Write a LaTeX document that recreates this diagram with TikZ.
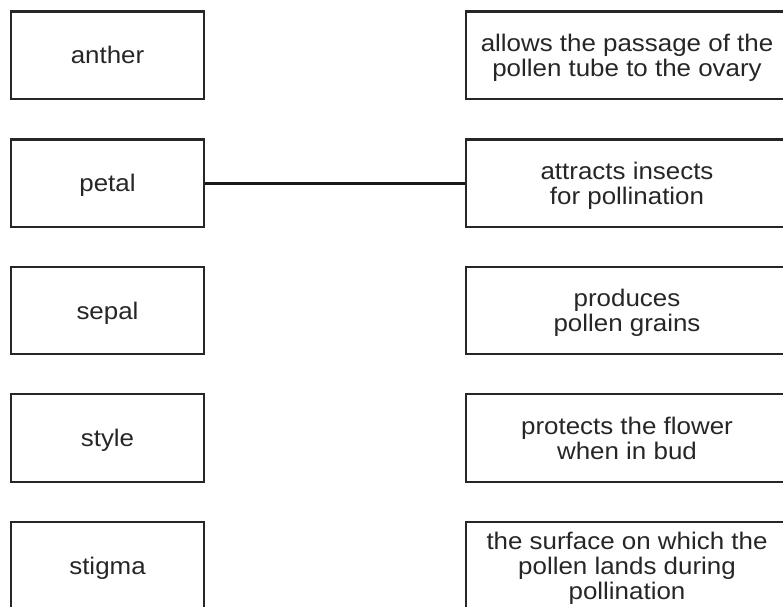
\documentclass[tikz,border=0pt]{standalone}
\usepackage{fontspec}
\setmainfont{Liberation Sans}[FakeStretch=1.08]

\begin{document}
\begin{tikzpicture}[x=1pt,y=-1pt]
    \tikzstyle{every node}+=[inner sep=0pt, font=\fontsize{24}{25}\selectfont, text=black!85]
    \tikzstyle{part}=[draw=black!85, line width=2.2pt, minimum width=193pt, minimum height=87.5pt, text depth=0pt, align=center]
    \tikzstyle{role}=[part, minimum width=322pt]
    \clip (0,0) rectangle (783,606);
    \node [part] (anther) at (107.5,55.25) {anther};
    \node [part] (petal) at (107.5,183.25) {petal};
    \node [part] (sepal) at (107.5,310.5) {sepal};
    \node [part] (styl) at (107.5,438) {style};
    \node [part] (stigma) at (107.5,565.5) {stigma};
    \node [role] (passage) at (627,55.25) {allows the passage of the\\pollen tube to the ovary};
    \node [role] (attracts) at (627,183.25) {attracts insects\\for pollination};
    \node [role] (produces) at (627,310.5) {produces\\pollen grains};
    \node [role] (protects) at (627,438) {protects the flower\\when in bud};
    \node [role] (surface) at (627,565.5) {the surface on which the\\pollen lands during\\pollination};
    \draw [black!90, line width=3.5pt] (petal) -- (attracts);
\end{tikzpicture}
\end{document}
